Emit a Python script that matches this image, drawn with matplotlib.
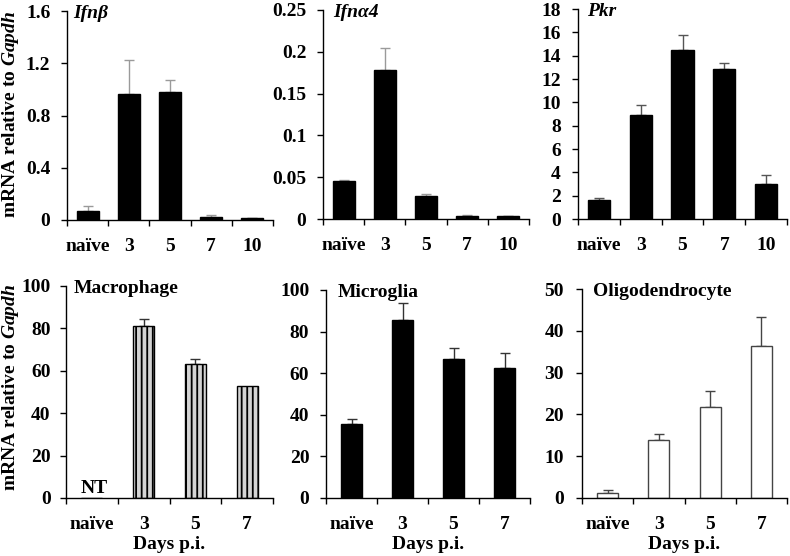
import matplotlib
matplotlib.use("Agg")
from matplotlib import pyplot as plt

plt.rcParams['font.family'] = 'Liberation Serif'
plt.rcParams['font.weight'] = 'bold'
plt.rcParams['mathtext.fontset'] = 'custom'
plt.rcParams['mathtext.rm'] = 'Liberation Serif:bold'
plt.rcParams['mathtext.it'] = 'Liberation Serif:italic:bold'
plt.rcParams['mathtext.bf'] = 'Liberation Serif:bold'
plt.rcParams['hatch.linewidth'] = 1.3
plt.rcParams['hatch.color'] = '#8c8c8c'

# top row: mRNA expression over days post infection
days_top = ['naïve', '3', '5', '7', '10']
ifnb = [0.067, 0.967, 0.98, 0.02, 0.013]
ifnb_err = [0.04, 0.26, 0.09, 0.018, 0.003]
ifna4 = [0.0459, 0.178, 0.0275, 0.0036, 0.0032]
ifna4_err = [0.0005, 0.026, 0.0025, 0.0006, 0.0005]
pkr = [1.61, 8.92, 14.45, 12.86, 3.03]
pkr_err = [0.15, 0.82, 1.3, 0.55, 0.71]

# bottom row: sorted cell types
days_bottom = ['naïve', '3', '5', '7']
macrophage = [0, 80.9, 63.2, 52.6]
macrophage_err = [0, 3.4, 2.4, 0]
microglia = [35.4, 85.4, 66.9, 62.5]
microglia_err = [2.5, 8.2, 5.2, 7.2]
oligo = [1.2, 13.9, 21.7, 36.3]
oligo_err = [0.64, 1.5, 4.0, 7.1]

W, H = 790, 556
fig = plt.figure(figsize=(W / 100, H / 100), dpi=100)


def make_axes(x0, x1, ytop, ybot):
    return fig.add_axes([x0 / W, (H - ybot) / H, (x1 - x0) / W, (ybot - ytop) / H])


def panel(ax, cats, vals, errs, ymax, ystep, title, italic, fc, ec, ecol,
          width, hatch=None, ypad=8, tx=6, xlabel=False):
    n = len(cats)
    xs = list(range(n))
    ax.bar(xs, vals, width=width, color=fc, edgecolor=ec, linewidth=1.0,
           hatch=hatch, zorder=2)
    for x, v, e in zip(xs, vals, errs):
        if e > 0:
            ax.errorbar(x, v, yerr=[[0], [e]], fmt='none', ecolor=ecol,
                        elinewidth=1.0, capsize=3.3, capthick=1.0, zorder=1)
    ax.set_xlim(-0.5, n - 0.5)
    ax.set_ylim(0, ymax)
    ticks = [i * ystep for i in range(int(round(ymax / ystep)) + 1)]
    ax.set_yticks(ticks)
    ax.set_yticklabels(['%g' % t for t in ticks])
    ax.set_xticks(xs)
    ax.set_xticklabels(cats)
    ax.set_xticks([i - 0.5 for i in range(n + 1)], minor=True)
    ax.tick_params(axis='x', which='major', length=0, pad=13, labelsize=14)
    ax.tick_params(axis='x', which='minor', length=4, width=1, direction='out')
    ax.tick_params(axis='y', length=4, width=1, pad=ypad, labelsize=14)
    for s in ['top', 'right']:
        ax.spines[s].set_visible(False)
    for s in ['left', 'bottom']:
        ax.spines[s].set_linewidth(1.0)
    ax.annotate(title, xy=(0, 1), xycoords='axes fraction',
                xytext=(tx * 0.72, -1.5), textcoords='offset points',
                fontsize=14, fontweight='bold',
                style='italic' if italic else 'normal', va='center', ha='left')
    if xlabel:
        ax.set_xlabel('Days p.i.', fontsize=14, fontweight='bold', labelpad=2)


ax1 = make_axes(67, 273, 11, 220)
panel(ax1, days_top, ifnb, ifnb_err, 1.6, 0.4, 'Ifnβ', True, 'black', 'black',
      '#9a9a9a', 0.53, ypad=8, tx=6)
ax2 = make_axes(323, 529, 10, 219)
panel(ax2, days_top, ifna4, ifna4_err, 0.25, 0.05, 'Ifnα4', True, 'black', 'black',
      '#9a9a9a', 0.53, ypad=8, tx=10)
ax3 = make_axes(578, 787, 9, 219)
panel(ax3, days_top, pkr, pkr_err, 18, 2, 'Pkr', True, 'black', 'black',
      '#555555', 0.53, ypad=8.5, tx=9)

ax4 = make_axes(66, 273, 286, 498)
panel(ax4, days_bottom, macrophage, macrophage_err, 100, 20, 'Macrophage', False,
      '#d4d4d4', 'black', '#333333', 0.41, hatch='|||', ypad=7, tx=8, xlabel=True)
ax4.text(0.05, 0.5, 'NT', fontsize=14, fontweight='bold', ha='center', va='bottom')
ax5 = make_axes(326, 530, 290, 498)
panel(ax5, days_bottom, microglia, microglia_err, 100, 20, 'Microglia', False,
      'black', 'black', '#333333', 0.41, ypad=8, tx=12, xlabel=True)
ax6 = make_axes(582, 787, 289, 498)
panel(ax6, days_bottom, oligo, oligo_err, 50, 10, 'Oligodendrocyte', False,
      'white', '#444444', '#444444', 0.41, ypad=9, tx=11, xlabel=True)

# shared y labels
for yc in [114, 387]:
    fig.text(11 / W, 1 - yc / H, r'mRNA relative to $\mathit{Gapdh}$',
             rotation=90, fontsize=14, fontweight='bold', ha='center', va='center')

fig.savefig('out.png', dpi=100)
